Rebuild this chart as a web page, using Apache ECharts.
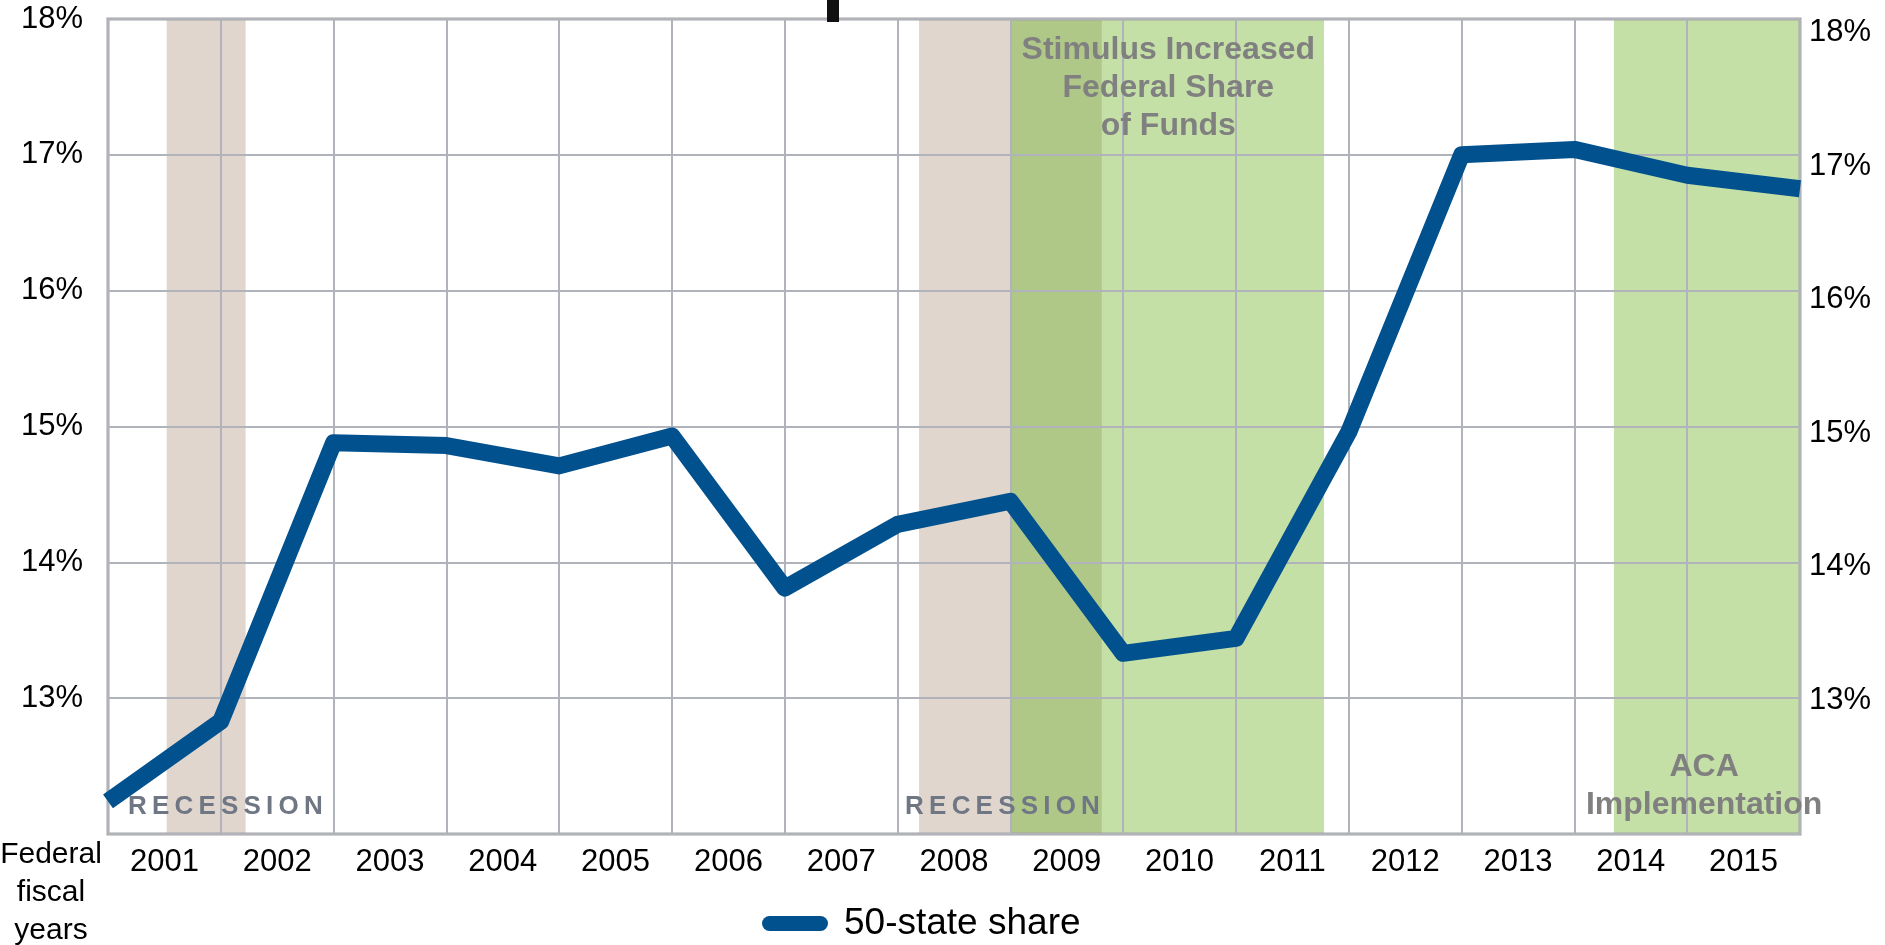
<!DOCTYPE html>
<html>
<head>
<meta charset="utf-8">
<title>50-state share</title>
<script src="https://cdn.jsdelivr.net/npm/echarts@6/dist/echarts.min.js"></script>
<style>
    html, body {
        margin: 0;
        padding: 0;
        background: #fff;
    }
    #shareChart {
        width: 1885px;
        height: 945px;
    }
</style>
</head>
<body>
<div id="shareChart"></div>
<script>
// federal fiscal years, one label per column
var years = ['2001', '2002', '2003', '2004', '2005', '2006', '2007', '2008',
    '2009', '2010', '2011', '2012', '2013', '2014', '2015']
// 50-state share (%), one point per column edge (start of 2001 ... end of 2015)
var shareValues = [12.24, 12.83, 14.88, 14.86, 14.71, 14.93, 13.81, 14.28,
    14.45, 13.33, 13.44, 14.96, 17.0, 17.04, 16.85, 16.75]
var yTicks = [13, 14, 15, 16, 17, 18]
// shaded periods, in columns counted from the start of 2001
var recessionBands = [[0.52, 1.22], [7.19, 8.81]]
var stimulusBand = [8.0, 10.78]
var acaBand = [13.35, 15]
// notes written on the chart: [text, column, share]
var notes = [
    ['R\u2009E\u2009C\u2009E\u2009S\u2009S\u2009I\u2009O\u2009N', 1.04, 12.2, 'recession'],
    ['R\u2009E\u2009C\u2009E\u2009S\u2009S\u2009I\u2009O\u2009N', 7.93, 12.2, 'recession'],
    ['Stimulus Increased\nFederal Share\nof Funds', 9.4, 17.49, 'period'],
    ['ACA\nImplementation', 14.15, 12.35, 'period']
]

var FONT = '"Liberation Sans", Arial, Helvetica, sans-serif'
var LINE_COLOR = '#02518F'
var GRID_COLOR = '#B0B3BA'
var TAN = '#E0D6CD'
var GREEN = '#C5E0A6'
var OVERLAP = '#AFC787'

function band (range, color) {
    return [{ xAxis: range[0], itemStyle: { color: color } }, { xAxis: range[1] }]
}

function shareLabel (v) {
    return yTicks.indexOf(v) >= 0 ? v + '%' : ''
}

var overlap = [Math.max(recessionBands[1][0], stimulusBand[0]), Math.min(recessionBands[1][1], stimulusBand[1])]
var bandData = recessionBands.map(function (r) { return band(r, TAN) })
bandData.push(band(stimulusBand, GREEN))
bandData.push(band(acaBand, GREEN))
bandData.push(band(overlap, OVERLAP))

var noteData = notes.map(function (n) {
    var isRecession = n[3] === 'recession'
    return {
        coord: [n[1], n[2]],
        label: {
            formatter: n[0],
            fontSize: isRecession ? 26 : 32,
            lineHeight: isRecession ? 26 : 38,
            fontWeight: 'bold',
            color: isRecession ? '#6F7684' : '#808080'
        }
    }
})

var chart = echarts.init(document.getElementById('shareChart'))
chart.setOption({
    animation: false,
    textStyle: { fontFamily: FONT },
    grid: {
        left: 108,
        right: 85,
        top: 19,
        bottom: 111,
        show: true,
        z: 2,
        backgroundColor: 'transparent',
        borderColor: '#A4A4A4',
        borderWidth: 3
    },
    legend: {
        left: 757,
        top: 900,
        itemWidth: 66,
        itemHeight: 15,
        icon: 'path://M7.5,0H58.5A7.5,7.5,0,0,1,58.5,15H7.5A7.5,7.5,0,0,1,7.5,0Z',
        textStyle: {
            fontFamily: FONT,
            fontSize: 37,
            lineHeight: 37,
            color: '#000',
            padding: [0, 0, 0, 11]
        },
        data: [{ name: '50-state share', itemStyle: { color: LINE_COLOR } }]
    },
    xAxis: [
        {
            type: 'value',
            min: 0,
            max: 15,
            interval: 1,
            z: 2,
            axisLine: { show: false },
            axisTick: { show: false },
            axisLabel: { show: false },
            splitLine: { show: true, lineStyle: { color: GRID_COLOR, width: 2 } }
        },
        {
            type: 'category',
            position: 'bottom',
            data: years,
            z: 2,
            axisLine: { show: false },
            axisTick: { show: false },
            splitLine: { show: false },
            axisLabel: { fontFamily: FONT, fontSize: 31, color: '#000', margin: 13 }
        }
    ],
    yAxis: [
        {
            type: 'value',
            min: 12,
            max: 18,
            interval: 1,
            z: 2,
            axisLine: { show: false },
            axisTick: { show: false },
            axisLabel: {
                fontFamily: FONT, fontSize: 31, color: '#000', margin: 25,
                padding: [5, 0, 0, 0], formatter: shareLabel
            },
            splitLine: { show: true, lineStyle: { color: GRID_COLOR, width: 2 } }
        },
        {
            type: 'value',
            position: 'right',
            min: 12,
            max: 18.1,
            interval: 1,
            z: 2,
            axisLine: { show: false },
            axisTick: { show: false },
            axisLabel: {
                fontFamily: FONT, fontSize: 31, color: '#000', margin: 9,
                padding: [5, 0, 0, 0], formatter: shareLabel
            },
            splitLine: { show: false }
        }
    ],
    series: [
        {
            name: '50-state share',
            type: 'line',
            xAxisIndex: 0,
            yAxisIndex: 0,
            z: 3,
            showSymbol: false,
            symbol: 'none',
            data: shareValues.map(function (v, i) { return [i, v] }),
            itemStyle: { color: LINE_COLOR },
            lineStyle: { color: LINE_COLOR, width: 17, join: 'round' },
            markArea: {
                silent: true,
                z: 1,
                label: { show: false },
                data: bandData
            },
            markPoint: {
                silent: true,
                symbol: 'circle',
                symbolSize: 0,
                label: { show: true, position: 'inside', align: 'center', fontFamily: FONT },
                data: noteData
            }
        }
    ],
    graphic: [
        {
            type: 'text',
            x: 51,
            y: 836,
            style: {
                text: 'Federal\nfiscal\nyears',
                font: '30px ' + FONT,
                fill: '#000',
                align: 'center',
                lineHeight: 38
            }
        },
        {
            type: 'rect',
            z: 100,
            shape: { x: 827, y: 0, width: 12, height: 22 },
            style: { fill: '#111' }
        }
    ]
})
</script>
</body>
</html>
